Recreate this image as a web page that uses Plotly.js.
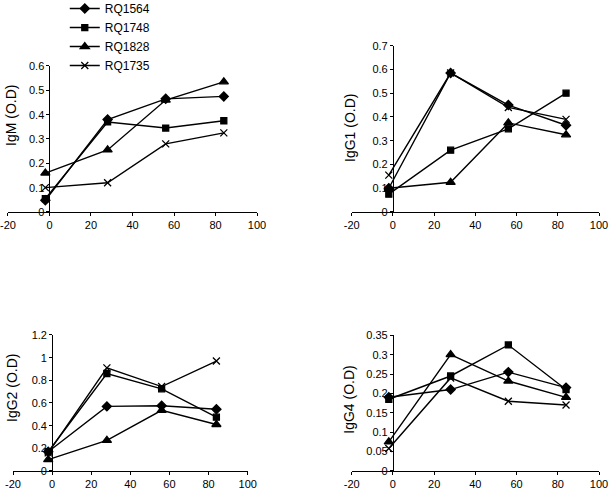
<!DOCTYPE html>
<html><head><meta charset="utf-8">
<script src="https://cdn.plot.ly/plotly-3.0.1.min.js"></script>
<style>html,body{margin:0;padding:0;background:#fff}#c{width:614px;height:494px}</style>
</head><body><div id="c"></div>
<script>
const days = [-2, 28, 56, 84];
const seriesNames = ['RQ1564', 'RQ1748', 'RQ1828', 'RQ1735'];
const igM  = {RQ1564:[0.048,0.38,0.465,0.475], RQ1748:[0.055,0.37,0.345,0.375], RQ1828:[0.16,0.255,0.46,0.535], RQ1735:[0.1,0.12,0.28,0.325]};
const igG1 = {RQ1564:[0.1,0.585,0.45,0.365], RQ1748:[0.075,0.26,0.35,0.5], RQ1828:[0.1,0.125,0.375,0.325], RQ1735:[0.155,0.585,0.44,0.39]};
const igG2 = {RQ1564:[0.17,0.57,0.575,0.545], RQ1748:[0.17,0.86,0.725,0.475], RQ1828:[0.1,0.27,0.535,0.41], RQ1735:[0.16,0.91,0.745,0.97]};
const igG4 = {RQ1564:[0.19,0.21,0.255,0.215], RQ1748:[0.185,0.245,0.325,0.21], RQ1828:[0.075,0.3,0.232,0.19], RQ1735:[0.058,0.24,0.18,0.17]};
const xTickVals = [-20, 0, 20, 40, 60, 80, 100];
const xTickText = ['-20', '0', '20', '40', '60', '80', '100'];
const panelTitles = ['IgM (O.D)', 'IgG1 (O.D)', 'IgG2 (O.D)', 'IgG4 (O.D)'];
const panelData = [igM, igG1, igG2, igG4];
const yRanges = [[0,0.6],[0,0.7],[0,1.2],[0,0.35]];
const yDticks = [0.1, 0.1, 0.2, 0.05];

const markerStyle = {
  RQ1564: {symbol:'diamond', size:7},
  RQ1748: {symbol:'square', size:6},
  RQ1828: {symbol:'triangle-up', size:8},
  RQ1735: {symbol:'x-thin-open', size:7}
};
const xDomains = [[0.0130,0.4186],[0.5728,0.9756],[0.0212,0.4034],[0.5728,0.9756]];
const yDomains = [[0.5709,0.8664],[0.5709,0.9075],[0.0466,0.3219],[0.0466,0.3213]];
const titlePos = [[0.0179,0.7672],[0.570,0.7409],[0.0195,0.2146],[0.568,0.1903]];

const traces = [];
const layout = {
  width:614, height:494, margin:{l:0,r:0,t:0,b:0,autoexpand:false},
  paper_bgcolor:'#fff', plot_bgcolor:'rgba(0,0,0,0)',
  font:{family:'Liberation Sans, Arial, sans-serif', color:'#000', size:11},
  showlegend:true,
  legend:{x:0.1055, y:1.012, xanchor:'left', yanchor:'top', font:{size:12}, bgcolor:'rgba(0,0,0,0)', itemwidth:30, tracegroupgap:0},
  annotations:[]
};
panelData.forEach((d, p) => {
  const xa = p === 0 ? 'x' : 'x' + (p+1);
  const ya = p === 0 ? 'y' : 'y' + (p+1);
  seriesNames.forEach(n => {
    const ms = markerStyle[n];
    traces.push({
      x: days, y: d[n], type:'scatter', mode:'lines+markers', name:n,
      xaxis:xa, yaxis:ya, showlegend: p === 0, legendgroup:n,
      line:{color:'#000', width:1.4},
      marker:{symbol:ms.symbol, size:ms.size, color:'#000', line:{color:'#000', width:1.3}}
    });
  });
  const xd = xDomains[p], yd = yDomains[p];
  const xk = p === 0 ? 'xaxis' : 'xaxis' + (p+1);
  const yk = p === 0 ? 'yaxis' : 'yaxis' + (p+1);
  layout[xk] = {
    domain: xd, anchor: ya, range:[-20,100], tickmode:'array', tickvals:xTickVals, ticktext:xTickText,
    showline:true, linecolor:'#000', linewidth:1, ticks:'outside', ticklen:3, tickcolor:'#000',
    showgrid:false, zeroline:false, tickfont:{size:11}, automargin:false
  };
  layout[yk] = {
    domain: yd, anchor:'free', position: xd[0] + (xd[1]-xd[0]) * (20/120),
    range: yRanges[p], dtick: yDticks[p], tick0:0,
    showline:true, linecolor:'#000', linewidth:1, ticks:'outside', ticklen:3, tickcolor:'#000',
    showgrid:false, zeroline:false, tickfont:{size:11}, automargin:false
  };
  layout.annotations.push({
    text: panelTitles[p], textangle:-90, showarrow:false,
    xref:'paper', yref:'paper', x:titlePos[p][0], y:titlePos[p][1],
    xanchor:'center', yanchor:'middle', font:{size:14}
  });
});
Plotly.newPlot('c', traces, layout, {staticPlot:true});
</script></body></html>
